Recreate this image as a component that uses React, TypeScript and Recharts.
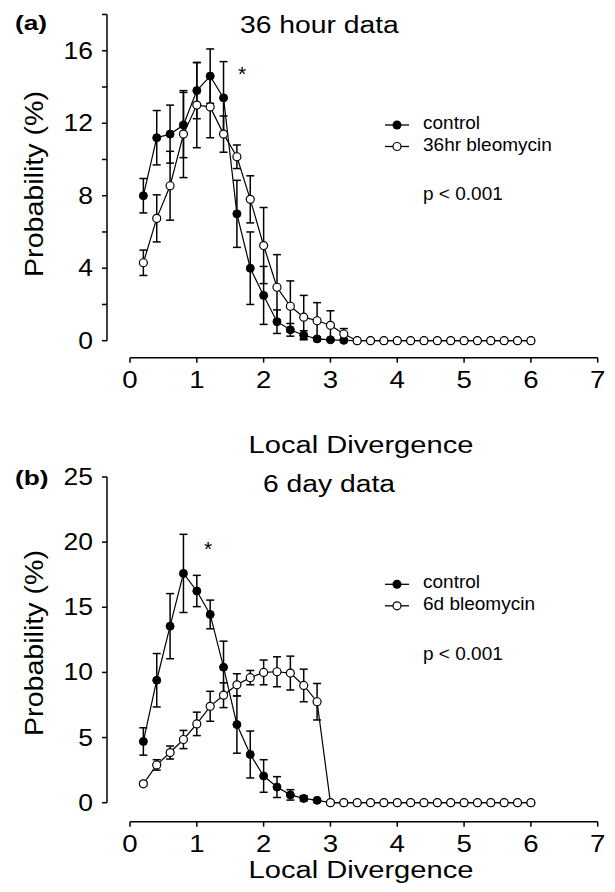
import React from 'react';
import { LineChart, Line, XAxis, YAxis, ErrorBar } from 'recharts';

const FONT = "'Liberation Sans', Arial, Helvetica, sans-serif";

// Local divergence bins
const xValues = [0.2, 0.4, 0.6, 0.8, 1.0, 1.2, 1.4, 1.6, 1.8, 2.0, 2.2, 2.4, 2.6, 2.8, 3.0, 3.2, 3.4, 3.6, 3.8, 4.0, 4.2, 4.4, 4.6, 4.8, 5.0, 5.2, 5.4, 5.6, 5.8, 6.0];

// (a) 36 hour data
const aControl = [8.0, 11.2, 11.4, 11.9, 13.8, 14.6, 13.4, 7.0, 4.0, 2.5, 1.05, 0.6, 0.3, 0.1, 0.05, 0.02, 0, 0, 0, 0, 0, 0, 0, 0, 0, 0, 0, 0, 0, 0];
const aControlErr = [0.95, 1.5, 1.6, 1.8, 1.55, 1.5, 2.0, 1.85, 2.0, 1.6, 0.65, 0.35, 0.25, 0.1, 0.05, 0, 0, 0, 0, 0, 0, 0, 0, 0, 0, 0, 0, 0, 0, 0];
const aBleo = [4.3, 6.75, 8.55, 11.4, 13.0, 12.9, 11.4, 10.15, 7.8, 5.25, 2.95, 1.9, 1.3, 1.1, 0.85, 0.37, 0, 0, 0, 0, 0, 0, 0, 0, 0, 0, 0, 0, 0, 0];
const aBleoErr = [0.7, 1.3, 1.9, 2.4, 2.35, 1.7, 1.0, 0.65, 1.3, 2.1, 1.8, 1.4, 1.2, 1.0, 0.8, 0.3, 0, 0, 0, 0, 0, 0, 0, 0, 0, 0, 0, 0, 0, 0];

// (b) 6 day data
const bControl = [4.7, 9.4, 13.55, 17.6, 16.25, 14.45, 10.4, 6.0, 3.7, 2.05, 1.2, 0.6, 0.33, 0.18, 0, 0, 0, 0, 0, 0, 0, 0, 0, 0, 0, 0, 0, 0, 0, 0];
const bControlErr = [1.05, 2.05, 2.5, 3.0, 1.2, 1.1, 2.0, 2.2, 1.8, 1.25, 0.8, 0.4, 0.2, 0.1, 0, 0, 0, 0, 0, 0, 0, 0, 0, 0, 0, 0, 0, 0, 0, 0];
const bBleo = [1.45, 2.9, 3.85, 4.85, 6.05, 7.4, 8.25, 9.05, 9.6, 10.0, 10.05, 9.95, 9.0, 7.75, 0, 0, 0, 0, 0, 0, 0, 0, 0, 0, 0, 0, 0, 0, 0, 0];
const bBleoErr = [0.15, 0.4, 0.5, 0.7, 0.9, 1.15, 0.95, 0.85, 0.55, 0.95, 1.15, 1.3, 1.25, 1.4, 0, 0, 0, 0, 0, 0, 0, 0, 0, 0, 0, 0, 0, 0, 0, 0];

// Axis ticks
const xTicks = [0, 1, 2, 3, 4, 5, 6, 7];
const aYTicks = [0, 2, 4, 6, 8, 10, 12, 14, 16, 18];
const aYLabels = [0, 4, 8, 12, 16];
const bYTicks = [0, 5, 10, 15, 20, 25];
const bYLabels = [0, 5, 10, 15, 20, 25];

const buildRows = (c: number[], ce: number[], b: number[], be: number[]) =>
  xValues.map((x, i) => ({ x, c: c[i], ce: ce[i], b: b[i], be: be[i] }));

const dataA = buildRows(aControl, aControlErr, aBleo, aBleoErr);
const dataB = buildRows(bControl, bControlErr, bBleo, bBleoErr);

const XTick = (p: any) => (
  <text
    transform={`translate(${p.x},${p.y + 25}) scale(1.2,1)`}
    textAnchor="middle"
    fontSize={23}
    fontFamily={FONT}
    fill="#000"
  >
    {p.payload.value}
  </text>
);

const makeYTick = (labels: number[]) => (p: any) => {
  if (!labels.includes(p.payload.value)) return <g />;
  return (
    <text
      transform={`translate(${p.x},${p.y + 8}) scale(1.15,1)`}
      textAnchor="end"
      fontSize={23}
      fontFamily={FONT}
      fill="#000"
    >
      {p.payload.value}
    </text>
  );
};

const axisStyle = { stroke: '#000', strokeWidth: 1.5 };

const W = 615;
const H = 440;
const PLOT_LEFT = 130;
const PLOT_RIGHT_GAP = 17.3;

function Panel(props: {
  data: any[];
  top: number;
  plotTop: number;
  plotBottomGap: number;
  yMax: number;
  yTicks: number[];
  yLabels: number[];
  yAxisShift: number;
  xAxisShift: number;
}) {
  const { data, top, plotTop, plotBottomGap, yMax, yTicks, yLabels, yAxisShift, xAxisShift } = props;
  return (
    <>
      {/* offset y axis */}
      <div style={{ position: 'absolute', left: -yAxisShift, top }}>
        <LineChart width={W} height={H} data={data}
          margin={{ top: plotTop, right: PLOT_RIGHT_GAP, left: PLOT_LEFT - 60, bottom: plotBottomGap }}>
          <XAxis type="number" dataKey="x" domain={[0, 7]} hide />
          <YAxis
            type="number"
            dataKey="c"
            domain={[0, yMax]}
            allowDataOverflow
            ticks={yTicks}
            interval={0}
            tickSize={5}
            tickMargin={9}
            width={60}
            axisLine={axisStyle}
            tickLine={axisStyle}
            tick={makeYTick(yLabels)}
          />
          <Line dataKey="c" stroke="none" dot={false} activeDot={false} isAnimationActive={false} />
        </LineChart>
      </div>
      {/* offset x axis */}
      <div style={{ position: 'absolute', left: 0, top: top + xAxisShift }}>
        <LineChart width={W} height={H} data={data}
          margin={{ top: plotTop, right: PLOT_RIGHT_GAP, left: PLOT_LEFT, bottom: plotBottomGap - 40 }}>
          <XAxis
            type="number"
            dataKey="x"
            domain={[0, 7]}
            ticks={xTicks}
            interval={0}
            tickSize={5}
            tickMargin={0}
            height={40}
            axisLine={axisStyle}
            tickLine={axisStyle}
            tick={XTick}
          />
          <YAxis type="number" domain={[0, yMax]} hide />
          <Line dataKey="c" stroke="none" dot={false} activeDot={false} isAnimationActive={false} />
        </LineChart>
      </div>
      {/* data */}
      <div style={{ position: 'absolute', left: 0, top }}>
        <LineChart width={W} height={H} data={data}
          margin={{ top: plotTop, right: PLOT_RIGHT_GAP, left: PLOT_LEFT, bottom: plotBottomGap }}>
          <XAxis type="number" dataKey="x" domain={[0, 7]} hide />
          <YAxis type="number" domain={[0, yMax]} hide />
          <Line
            dataKey="c"
            type="linear"
            stroke="#000"
            strokeWidth={1.2}
            dot={{ r: 4, fill: '#000', stroke: '#000', strokeWidth: 1 }}
            activeDot={false}
            isAnimationActive={false}
          >
            <ErrorBar dataKey="ce" width={4} stroke="#000" strokeWidth={1.5} direction="y" isAnimationActive={false} />
          </Line>
          <Line
            dataKey="b"
            type="linear"
            stroke="#000"
            strokeWidth={1.2}
            dot={{ r: 4, fill: '#fff', stroke: '#000', strokeWidth: 1.2 }}
            activeDot={false}
            isAnimationActive={false}
          >
            <ErrorBar dataKey="be" width={4} stroke="#000" strokeWidth={1.5} direction="y" isAnimationActive={false} />
          </Line>
        </LineChart>
      </div>
    </>
  );
}

function Legend({ y0, second }: { y0: number; second: string }) {
  return (
    <g>
      <line x1={385} x2={409} y1={y0} y2={y0} stroke="#000" strokeWidth={1.3} />
      <circle cx={397} cy={y0} r={4.5} fill="#000" />
      <text x={423} y={y0 + 4} fontSize={19} fontFamily={FONT}>control</text>
      <line x1={385} x2={409} y1={y0 + 21.5} y2={y0 + 21.5} stroke="#000" strokeWidth={1.3} />
      <circle cx={397} cy={y0 + 21.5} r={4} fill="#fff" stroke="#000" strokeWidth={1.2} />
      <text x={423} y={y0 + 26} fontSize={19} fontFamily={FONT}>{second}</text>
    </g>
  );
}

export default function App() {
  return (
    <div style={{ position: 'absolute', left: 0, top: 0, width: 615, height: 892, background: '#fff', overflow: 'hidden' }}>
      <Panel data={dataA} top={0} plotTop={14.5} plotBottomGap={99.3} yMax={18}
        yTicks={aYTicks} yLabels={aYLabels} yAxisShift={23.3} xAxisShift={17.3} />
      <Panel data={dataB} top={440} plotTop={37} plotBottomGap={77.3} yMax={25}
        yTicks={bYTicks} yLabels={bYLabels} yAxisShift={23.3} xAxisShift={19} />
      <svg width={615} height={892} style={{ position: 'absolute', left: 0, top: 0, pointerEvents: 'none' }} fontFamily={FONT}>
        {/* panel letters */}
        <text transform="translate(15,30) scale(1.25,1)" fontSize={21} fontWeight="bold">(a)</text>
        <text transform="translate(15,485) scale(1.25,1)" fontSize={21} fontWeight="bold">(b)</text>
        {/* titles */}
        <text transform="translate(240,32.7) scale(1.23,1)" fontSize={23}>36 hour data</text>
        <text transform="translate(263,491.7) scale(1.23,1)" fontSize={23}>6 day data</text>
        {/* significance stars */}
        <text x={242} y={81} fontSize={21} textAnchor="middle">*</text>
        <text x={208} y={556} fontSize={21} textAnchor="middle">*</text>
        {/* x axis titles */}
        <text transform="translate(361,453.3) scale(1.266,1)" fontSize={23} textAnchor="middle">Local Divergence</text>
        <text transform="translate(361,877.5) scale(1.266,1)" fontSize={23} textAnchor="middle">Local Divergence</text>
        {/* y axis titles */}
        <text transform="translate(43,184) rotate(-90) scale(1.1,1)" fontSize={26} textAnchor="middle">Probability (%)</text>
        <text transform="translate(43,643) rotate(-90) scale(1.1,1)" fontSize={26} textAnchor="middle">Probability (%)</text>
        {/* legends */}
        <Legend y0={125} second="36hr bleomycin" />
        <text x={423} y={200} fontSize={19}>p &lt; 0.001</text>
        <Legend y0={584.3} second="6d bleomycin" />
        <text x={423} y={660} fontSize={19}>p &lt; 0.001</text>
      </svg>
    </div>
  );
}
